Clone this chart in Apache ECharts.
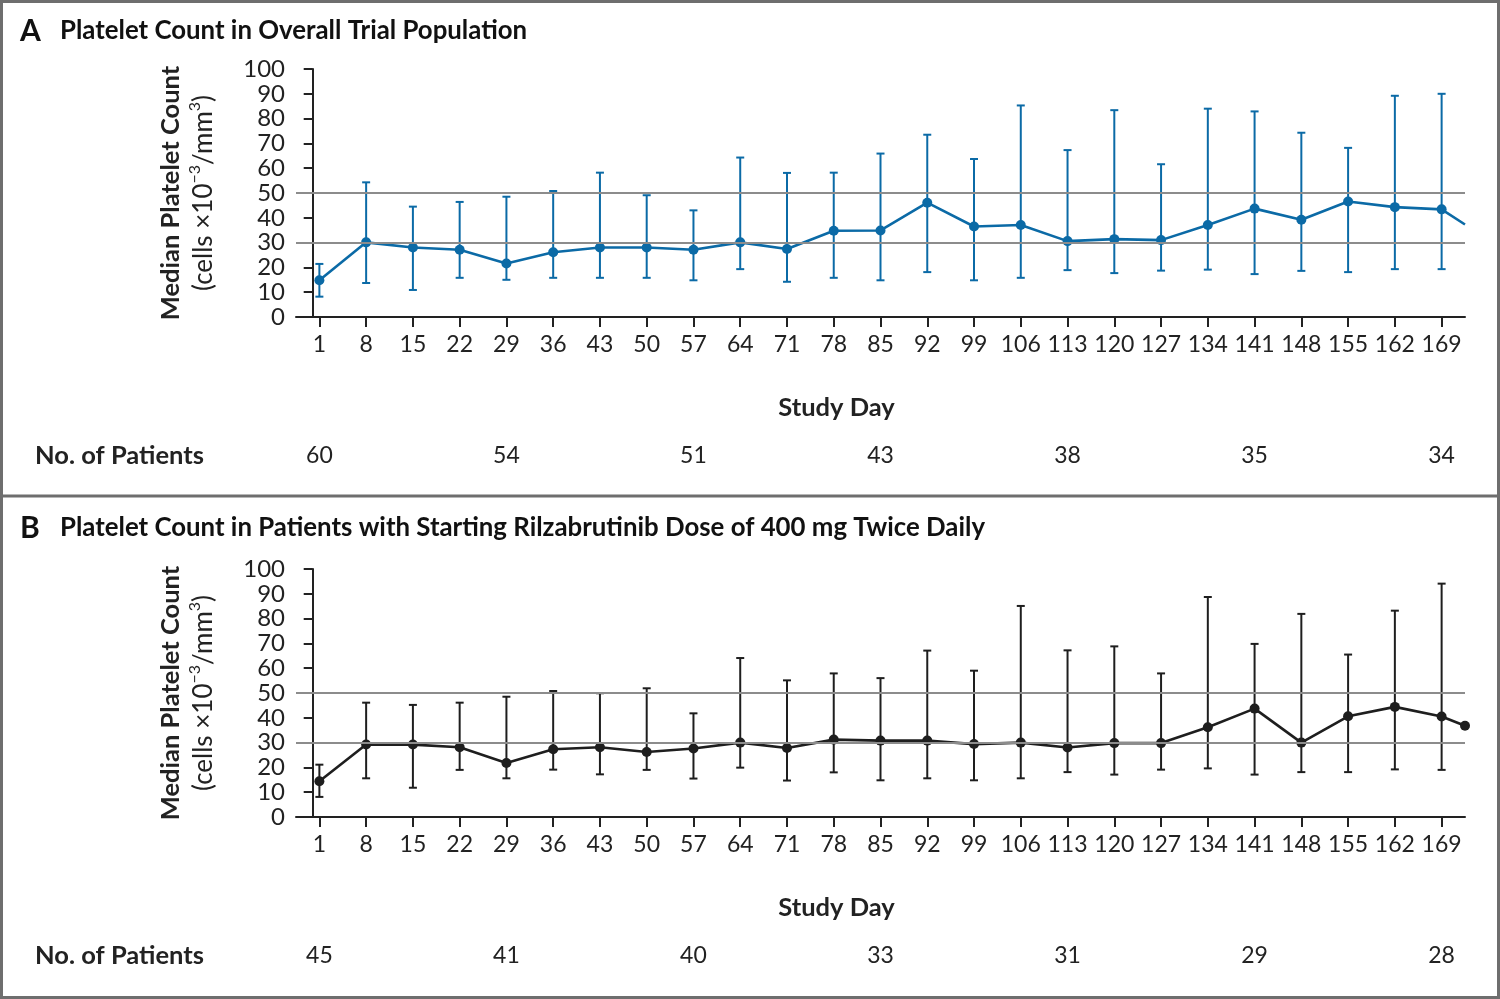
<!DOCTYPE html>
<html>
<head>
<meta charset="utf-8">
<script src="https://cdn.jsdelivr.net/npm/echarts@6/dist/echarts.min.js"></script>
<style>
html,body{margin:0;padding:0;background:#fff;}
#chart{width:1500px;height:999px;}
</style>
</head>
<body>
<div id="chart"></div>
<script>
// ---- data ----
const days = [1, 8, 15, 22, 29, 36, 43, 50, 57, 64, 71, 78, 85, 92, 99, 106, 113, 120, 127, 134, 141, 148, 155, 162, 169];
const aMedian = [14.8, 30.1, 28.0, 27.1, 21.6, 26.1, 28.0, 28.0, 27.1, 30.1, 27.4, 34.8, 34.9, 46.1, 36.5, 37.1, 30.6, 31.4, 31.0, 37.1, 43.7, 39.2, 46.6, 44.3, 43.4];
const aLow    = [8.2, 13.7, 10.9, 15.8, 15.0, 15.8, 15.8, 15.8, 14.8, 19.3, 14.2, 15.8, 14.8, 18.1, 14.8, 15.8, 18.9, 17.7, 18.7, 19.1, 17.3, 18.6, 18.1, 19.3, 19.3];
const aHigh   = [21.4, 54.3, 44.5, 46.4, 48.5, 50.8, 58.2, 49.1, 43.0, 64.3, 58.1, 58.2, 65.9, 73.5, 63.7, 85.3, 67.3, 83.4, 61.6, 84.0, 82.9, 74.3, 68.2, 89.2, 90.0];
const bMedian = [14.4, 29.2, 29.2, 28.1, 21.8, 27.3, 28.1, 26.2, 27.6, 30.0, 27.8, 31.2, 30.8, 30.8, 29.4, 30.0, 28.0, 29.8, 29.8, 36.2, 43.7, 30.0, 40.6, 44.4, 40.5];
const bLow    = [8.1, 15.6, 11.8, 19.0, 15.6, 19.1, 17.2, 19.0, 15.5, 19.9, 14.7, 18.0, 14.8, 15.6, 14.8, 15.6, 18.1, 17.1, 19.1, 19.6, 17.1, 18.1, 18.1, 19.2, 19.0];
const bHigh   = [21.1, 46.1, 45.2, 46.1, 48.5, 50.8, 49.9, 51.9, 41.8, 64.1, 55.1, 57.9, 56.0, 67.1, 59.0, 85.1, 67.2, 68.8, 57.9, 88.7, 69.8, 81.9, 65.5, 83.2, 94.1];
const endDay = 172.5;
const aEnd = 37.3;
const bEnd = 36.8;
const patientDays = [1, 29, 57, 85, 113, 141, 169];
const aPatients = [60, 54, 51, 43, 38, 35, 34];
const bPatients = [45, 41, 40, 33, 31, 29, 28];
const refLines = [30, 50];

// ---- styling ----
const FONT = 'Lato, "Open Sans", sans-serif';
const BLUE = '#0b6aa6';
const BLACK = '#1e1e1e';
const AXIS = '#222';

const grids = [
  {left: 296, right: 35, top: 69, height: 248},
  {left: 296, right: 35, top: 569, height: 248}
];

function xMain(gi) {
  return {
    type: 'value', gridIndex: gi, min: -2.5, max: 172.5,
    axisLine: {show: true, lineStyle: {color: AXIS, width: 2}},
    axisTick: {show: true, customValues: days, length: 10, lineStyle: {color: AXIS, width: 2}},
    axisLabel: {show: true, customValues: days, fontFamily: FONT, fontSize: 23, color: '#222', margin: 16},
    splitLine: {show: false},
    name: 'Study Day', nameLocation: 'middle', nameGap: 78,
    nameTextStyle: {fontFamily: FONT, fontSize: 25.5, fontWeight: 'bold', color: '#222', padding: [0, 88, 0, 0]}
  };
}
function xPatients(gi, counts) {
  return {
    type: 'value', gridIndex: gi, min: -2.5, max: 172.5, position: 'bottom', offset: 139,
    axisLine: {show: false}, axisTick: {show: false}, splitLine: {show: false},
    axisLabel: {show: true, customValues: patientDays, margin: 0, verticalAlign: 'middle',
      fontFamily: FONT, fontSize: 23, color: '#222',
      formatter: v => { const i = patientDays.indexOf(v); return i >= 0 ? String(counts[i]) : ''; }},
    name: 'No. of Patients', nameLocation: 'start', nameGap: 92,
    nameTextStyle: {fontFamily: FONT, fontSize: 25.5, fontWeight: 'bold', color: '#222', verticalAlign: 'middle'}
  };
}
function yAxis(gi) {
  return {
    type: 'value', gridIndex: gi, min: 0, max: 100, interval: 10,
    axisLine: {show: true, lineStyle: {color: AXIS, width: 2}},
    axisTick: {show: true, length: 9, lineStyle: {color: AXIS, width: 2}},
    axisLabel: {fontFamily: FONT, fontSize: 24, color: '#222', margin: 11},
    splitLine: {show: false},
    name: '{b|Median Platelet Count}\n{n|(cells \u00d710}{s|\u22123}{n|/mm}{s|3}{n|)}',
    nameLocation: 'middle', nameRotate: 90, nameGap: 76,
    nameTextStyle: {
      fontFamily: FONT, color: '#222', lineHeight: 33,
      rich: {
        b: {fontFamily: FONT, fontSize: 25.5, fontWeight: 'bold', color: '#222', lineHeight: 33},
        n: {fontFamily: FONT, fontSize: 26, color: '#222', lineHeight: 33},
        s: {fontFamily: FONT, fontSize: 16, color: '#222', verticalAlign: 'top', lineHeight: 22}
      }
    }
  };
}

function errData(low, high) {
  return days.map((d, i) => [d, low[i], high[i]]);
}
function lineData(med, endVal, showEnd) {
  const arr = days.map((d, i) => [d, med[i]]);
  arr.push(showEnd ? [endDay, endVal] : {value: [endDay, endVal], symbolSize: 0});
  return arr;
}
function errSeries(gi, low, high, color) {
  return {
    type: 'custom', xAxisIndex: gi * 2, yAxisIndex: gi, z: 2, silent: true,
    data: errData(low, high),
    renderItem: function (params, api) {
      const lo = api.coord([api.value(0), api.value(1)]);
      const hi = api.coord([api.value(0), api.value(2)]);
      const w = 4;
      const st = {stroke: color, lineWidth: 2};
      return {
        type: 'group',
        children: [
          {type: 'line', shape: {x1: lo[0], y1: lo[1], x2: hi[0], y2: hi[1]}, style: st},
          {type: 'line', shape: {x1: lo[0] - w, y1: lo[1], x2: lo[0] + w, y2: lo[1]}, style: st},
          {type: 'line', shape: {x1: hi[0] - w, y1: hi[1], x2: hi[0] + w, y2: hi[1]}, style: st}
        ]
      };
    },
    markLine: {
      silent: true, symbol: ['none', 'none'], label: {show: false},
      lineStyle: {color: '#8c8c8c', width: 2, type: 'solid'},
      data: refLines.map(v => ({yAxis: v}))
    }
  };
}
function lineSeries(gi, med, endVal, showEnd, color) {
  return {
    type: 'line', xAxisIndex: gi * 2, yAxisIndex: gi, z: 3, silent: true, clip: false,
    data: lineData(med, endVal, showEnd),
    symbol: 'circle', symbolSize: 10, showSymbol: true,
    itemStyle: {color: color},
    lineStyle: {color: color, width: 2.6},
    animation: false
  };
}

const chart = echarts.init(document.getElementById('chart'), null, {renderer: 'canvas'});
chart.setOption({
  animation: false,
  backgroundColor: '#fff',
  grid: grids,
  xAxis: [xMain(0), xPatients(0, aPatients), xMain(1), xPatients(1, bPatients)],
  yAxis: [yAxis(0), yAxis(1)],
  series: [
    errSeries(0, aLow, aHigh, BLUE),
    lineSeries(0, aMedian, aEnd, false, BLUE),
    errSeries(1, bLow, bHigh, BLACK),
    lineSeries(1, bMedian, bEnd, true, BLACK)
  ],
  graphic: [
    {type: 'rect', shape: {x: 1.5, y: 1.5, width: 1497, height: 996}, style: {fill: 'none', stroke: '#6e6e6e', lineWidth: 3}, z: 100},
    {type: 'line', shape: {x1: 0, y1: 496, x2: 1500, y2: 496}, style: {stroke: '#6e6e6e', lineWidth: 3}, z: 100},
    {type: 'text', left: 20, top: 16, style: {text: 'A', font: 'bold 30px ' + FONT, fill: '#111'}},
    {type: 'text', left: 60, top: 18, style: {text: 'Platelet Count in Overall Trial Population', font: 'bold 25.8px ' + FONT, fill: '#111'}},
    {type: 'text', left: 20, top: 513, style: {text: 'B', font: 'bold 30px ' + FONT, fill: '#111'}},
    {type: 'text', left: 60, top: 515, style: {text: 'Platelet Count in Patients with Starting Rilzabrutinib Dose of 400 mg Twice Daily', font: 'bold 25.8px ' + FONT, fill: '#111'}}
  ]
});
</script>
</body>
</html>
